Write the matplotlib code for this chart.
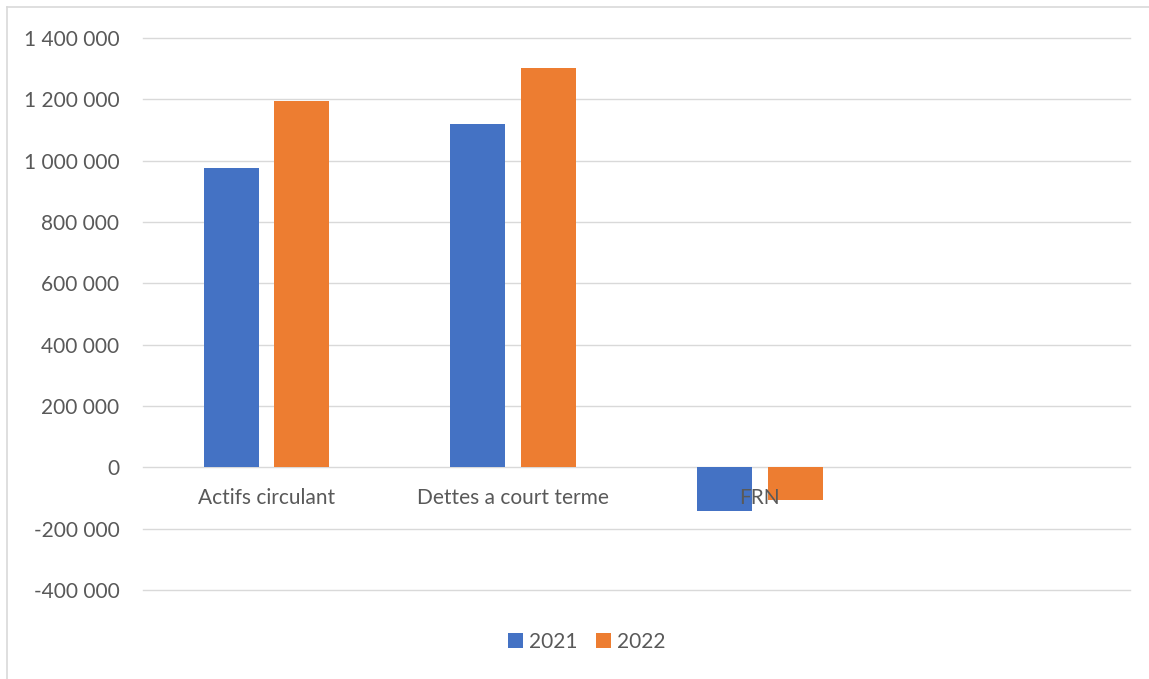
import matplotlib
matplotlib.use("Agg")
import matplotlib.pyplot as plt
from matplotlib.lines import Line2D
from matplotlib.patches import Patch
import matplotlib.transforms as mtransforms
import numpy as np

categories = ["Actifs circulant", "Dettes a court terme", "FRN", ""]
series_names = ["2021", "2022"]
values_2021 = [975000, 1118000, -143000, np.nan]
values_2022 = [1194000, 1302000, -107000, np.nan]
yticks = [-400000, -200000, 0, 200000, 400000, 600000, 800000, 1000000, 1200000, 1400000]
colors = ["#4472C4", "#ED7D31"]

plt.rcParams['font.family'] = ['Lato', 'DejaVu Sans']
text_color = "#595959"
fs = 15

W, H = 1149, 679
fig = plt.figure(figsize=(W / 100, H / 100), dpi=100)
ax = fig.add_axes([143 / W, 1 - 590 / H, (1130 - 143) / W, (590 - 38) / H])

x = np.arange(len(categories))
bw = 0.223
off = 0.143
ax.bar(x - off, values_2021, width=bw, color=colors[0], zorder=3)
ax.bar(x + off, values_2022, width=bw, color=colors[1], zorder=3)

ax.set_xlim(-0.5, len(categories) - 0.5)
ax.set_ylim(-400000, 1400000)
ax.set_yticks(yticks)
ax.set_yticklabels([f"{v:,}".replace(",", " ") for v in yticks], color=text_color, fontsize=fs)
ax.tick_params(axis='y', length=0, pad=17)
ax.set_xticks([])
ax.grid(axis='y', color="#D9D9D9", linewidth=1.0, zorder=0)
for gl in ax.get_ygridlines():
    gl.set_clip_on(False)
for s in ax.spines.values():
    s.set_visible(False)

trans = mtransforms.blended_transform_factory(ax.transData, ax.transData)
for xi, lab in zip(x, categories):
    ax.text(xi, 0, lab, ha='center', va='top', color=text_color, fontsize=fs, zorder=5,
            transform=trans + mtransforms.ScaledTranslation(0, -21 / 100, fig.dpi_scale_trans))

handles = [Patch(facecolor=c, edgecolor='none') for c in colors]
fig.legend(handles, series_names, loc='center', bbox_to_anchor=(587 / W, 1 - 642 / H),
           ncol=2, frameon=False, fontsize=fs, labelcolor=text_color,
           handlelength=0.7, handleheight=0.7, handletextpad=0.3, columnspacing=0.9)

fig.add_artist(Line2D([7 / W, 1], [1 - 7 / H, 1 - 7 / H], color="#D9D9D9", linewidth=1.2, transform=fig.transFigure))
fig.add_artist(Line2D([7 / W, 7 / W], [0, 1 - 7 / H], color="#D9D9D9", linewidth=1.2, transform=fig.transFigure))

fig.savefig("out.png", dpi=100)
